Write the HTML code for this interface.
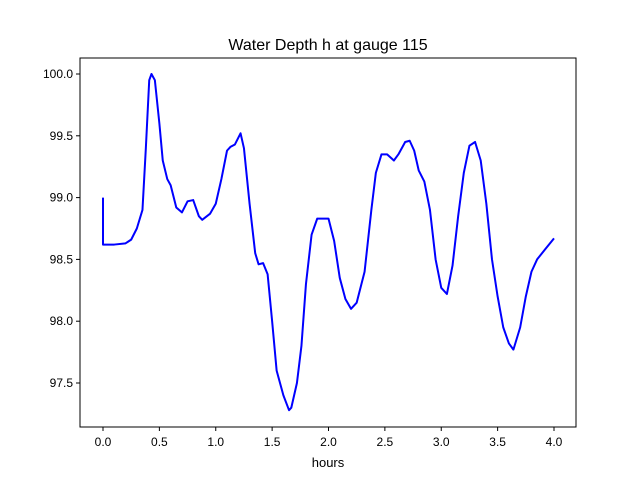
<!DOCTYPE html>
<html><head><meta charset="utf-8"><style>
body{margin:0;background:#fff;}
svg{font-family:"Liberation Sans","DejaVu Sans",sans-serif;}
</style></head><body>
<svg id="chart" width="640" height="480" xmlns="http://www.w3.org/2000/svg">
<rect width="640" height="480" fill="#fff"/>
<text x="328" y="50" font-size="16" text-anchor="middle">Water Depth h at gauge 115</text>
<g id="ticks"></g>
<polyline id="line" fill="none" stroke="#0000ff" stroke-width="2" stroke-linejoin="round"/>
<rect x="80" y="58" width="496" height="369" fill="none" stroke="#000" stroke-width="1"/>
<text x="328" y="467" font-size="13" text-anchor="middle">hours</text>
</svg>
<script>
const hours=[0,0,0.1,0.2,0.25,0.3,0.35,0.38,0.41,0.43,0.46,0.5,0.53,0.57,0.6,0.65,0.7,0.75,0.8,0.85,0.88,0.95,1.0,1.05,1.1,1.13,1.17,1.22,1.25,1.3,1.35,1.38,1.42,1.46,1.5,1.54,1.6,1.65,1.67,1.72,1.76,1.8,1.85,1.9,1.95,2.0,2.05,2.1,2.15,2.2,2.25,2.32,2.38,2.42,2.47,2.52,2.58,2.62,2.68,2.72,2.76,2.8,2.85,2.9,2.95,3.0,3.05,3.1,3.15,3.2,3.25,3.3,3.35,3.4,3.45,3.5,3.55,3.6,3.64,3.7,3.75,3.8,3.85,3.92,4.0];
const depth=[99.0,98.62,98.62,98.63,98.66,98.75,98.9,99.4,99.95,100.0,99.95,99.6,99.3,99.15,99.1,98.92,98.88,98.97,98.98,98.85,98.82,98.87,98.95,99.15,99.38,99.41,99.43,99.52,99.4,98.95,98.55,98.46,98.47,98.38,98.0,97.6,97.4,97.28,97.3,97.5,97.8,98.3,98.7,98.83,98.83,98.83,98.65,98.35,98.18,98.1,98.15,98.4,98.9,99.2,99.35,99.35,99.3,99.35,99.45,99.46,99.38,99.22,99.13,98.9,98.5,98.27,98.22,98.45,98.85,99.2,99.42,99.45,99.3,98.95,98.5,98.2,97.95,97.82,97.77,97.95,98.2,98.4,98.5,98.58,98.67];
const xTicks=[0.0,0.5,1.0,1.5,2.0,2.5,3.0,3.5,4.0];
const yTicks=[97.5,98.0,98.5,99.0,99.5,100.0];
const xs=v=>103+v*112.75;
const ys=v=>74+(100-v)*123.6;
const NS="http://www.w3.org/2000/svg";
const g=document.getElementById('ticks');
function mk(tag,attrs){const e=document.createElementNS(NS,tag);for(const k in attrs)e.setAttribute(k,attrs[k]);return e;}
xTicks.forEach(t=>{
 const x=xs(t);
 const l=mk('line',{x1:x,x2:x,y1:427,y2:431,stroke:'#000'});
 
 
 g.appendChild(l);
 const tx=mk('text',{x:x,y:446,'font-size':12,'text-anchor':'middle'});
 
 
 tx.textContent=t.toFixed(1);g.appendChild(tx);
});
yTicks.forEach(t=>{
 const y=ys(t);
 const l=mk('line',{x1:76,x2:80,y1:y,y2:y,stroke:'#000'});
 
 
 g.appendChild(l);
 const tx=mk('text',{x:73,y:y+4,'font-size':12,'text-anchor':'end'});
 
 
 tx.textContent=t.toFixed(1);g.appendChild(tx);
});
document.getElementById('line').setAttribute('points',hours.map((h,i)=>xs(h)+','+ys(depth[i])).join(' '));
</script>
</body></html>
